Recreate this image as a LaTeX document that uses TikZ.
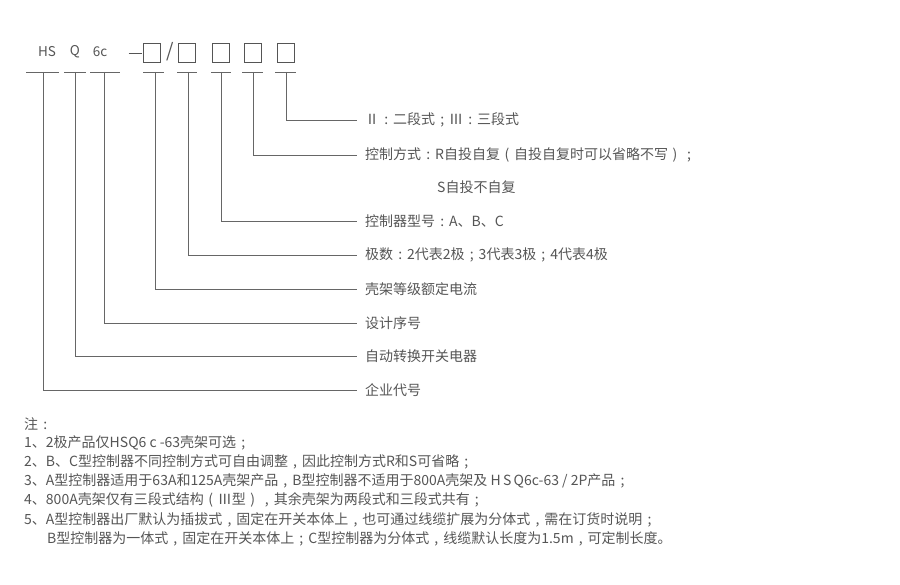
\documentclass[tikz,border=0pt]{standalone}
\usepackage{fontspec}
\setmainfont{Noto Sans CJK SC}
\usetikzlibrary{positioning}
\definecolor{ink}{RGB}{85,85,85}
\definecolor{wire}{RGB}{102,102,102}
\newcommand\zw[1]{\makebox[1em][c]{#1}}
\tikzset{
  code/.style={text=ink, inner sep=0pt, font=\fontsize{13.5}{15}\selectfont},
  slot/.style={draw=ink, line width=0.9pt, minimum width=17pt, minimum height=19pt, inner sep=0pt},
  tick/.style={draw=wire, line width=0.9pt},
  lead/.style={draw=wire, line width=0.9pt},
  lbl/.style={anchor=west, text=ink, inner sep=0pt, font=\fontsize{14}{16}\selectfont},
  note/.style={anchor=west, text=ink, inner sep=0pt, font=\fontsize{14}{16}\selectfont},
}
\begin{document}
\begin{tikzpicture}[x=1pt,y=-1pt]
        \useasboundingbox (0,0) rectangle (900,585);
        % model code
        \node[code] (hs) at (47,52) {HS};
        \node[code] (q) at (75,52) {Q};
        \node[code] (sc) at (100,52) {6c};
        \node[code] (dash) at (135,53) {\rule{13pt}{0.9pt}};
        \node[slot] (b1) at (152,53) {};
        \node[code,font=\fontsize{19}{20}\selectfont] (slash) at (170,52) {/};
        \node[slot] (b2) at (187,53) {};
        \node[slot] (b3) at (221,53) {};
        \node[slot] (b4) at (253,53) {};
        \node[slot] (b5) at (286,53) {};
        % underlines
        \foreach \nm/\xl/\xr/\xm in {hs/26/59/43, q/64/86/75, sc/90/120/104, b1/143/164/155,
                                    b2/177/197/188, b3/211/231/221, b4/242/263/253, b5/275/296/286}{
          \draw[tick] (\xl,72) -- (\xr,72);
          \coordinate (t-\nm) at (\xm,72);
        }
        % legend
        \node[lbl] (l-b5) at (365,120) {Ⅱ\zw{:}二段式\zw{;}Ⅲ\zw{:}三段式};
        \node[lbl] (l-b4) at (365,155) {控制方式\zw{:}R自投自复\zw{(}自投自复时可以省略不写\zw{)}\zw{;}};
        \node[lbl] (l-b4s) at (437,187) {S自投不自复};
        \node[lbl] (l-b3) at (365,221) {控制器型号\zw{:}A、B、C};
        \node[lbl] (l-b2) at (365,255) {极数\zw{:}2代表2极\zw{;}3代表3极\zw{;}4代表4极};
        \node[lbl] (l-b1) at (365,289) {壳架等级额定电流};
        \node[lbl] (l-sc) at (365,323) {设计序号};
        \node[lbl] (l-q) at (365,356) {自动转换开关电器};
        \node[lbl] (l-hs) at (365,390) {企业代号};
        \foreach \nm in {b5,b4,b3,b2,b1,sc,q,hs}
          \draw[lead] (t-\nm) |- ([xshift=-8pt]l-\nm.west);
        % notes
        \node[note] (n0) at (24,424) {注\zw{:}};
        \node[note] (n1) at (24,443) {1、2极产品仅HSQ6 c -63壳架可选\zw{;}};
        \node[note] (n2) at (24,462) {2、B、C型控制器不同控制方式可自由调整\zw{,}因此控制方式R和S可省略\zw{;}};
        \node[note] (n3) at (24,481) {3、A型控制器适用于63A和125A壳架产品\zw{,}B型控制器不适用于800A壳架及 H\,S\,Q6c-63 / 2P产品\zw{;}};
        \node[note] (n4) at (24,500) {4、800A壳架仅有三段式结构\zw{(}Ⅲ型\zw{)}\zw{,}其余壳架为两段式和三段式共有\zw{;}};
        \node[note] (n5) at (24,520) {5、A型控制器出厂默认为插拔式\zw{,}固定在开关本体上\zw{,}也可通过线缆扩展为分体式\zw{,}需在订货时说明\zw{;}};
        \node[note] (n6) at (47,539) {B型控制器为一体式\zw{,}固定在开关本体上\zw{;}C型控制器为分体式\zw{,}线缆默认长度为1.5m\zw{,}可定制长度。};
      \end{tikzpicture}
\end{document}
